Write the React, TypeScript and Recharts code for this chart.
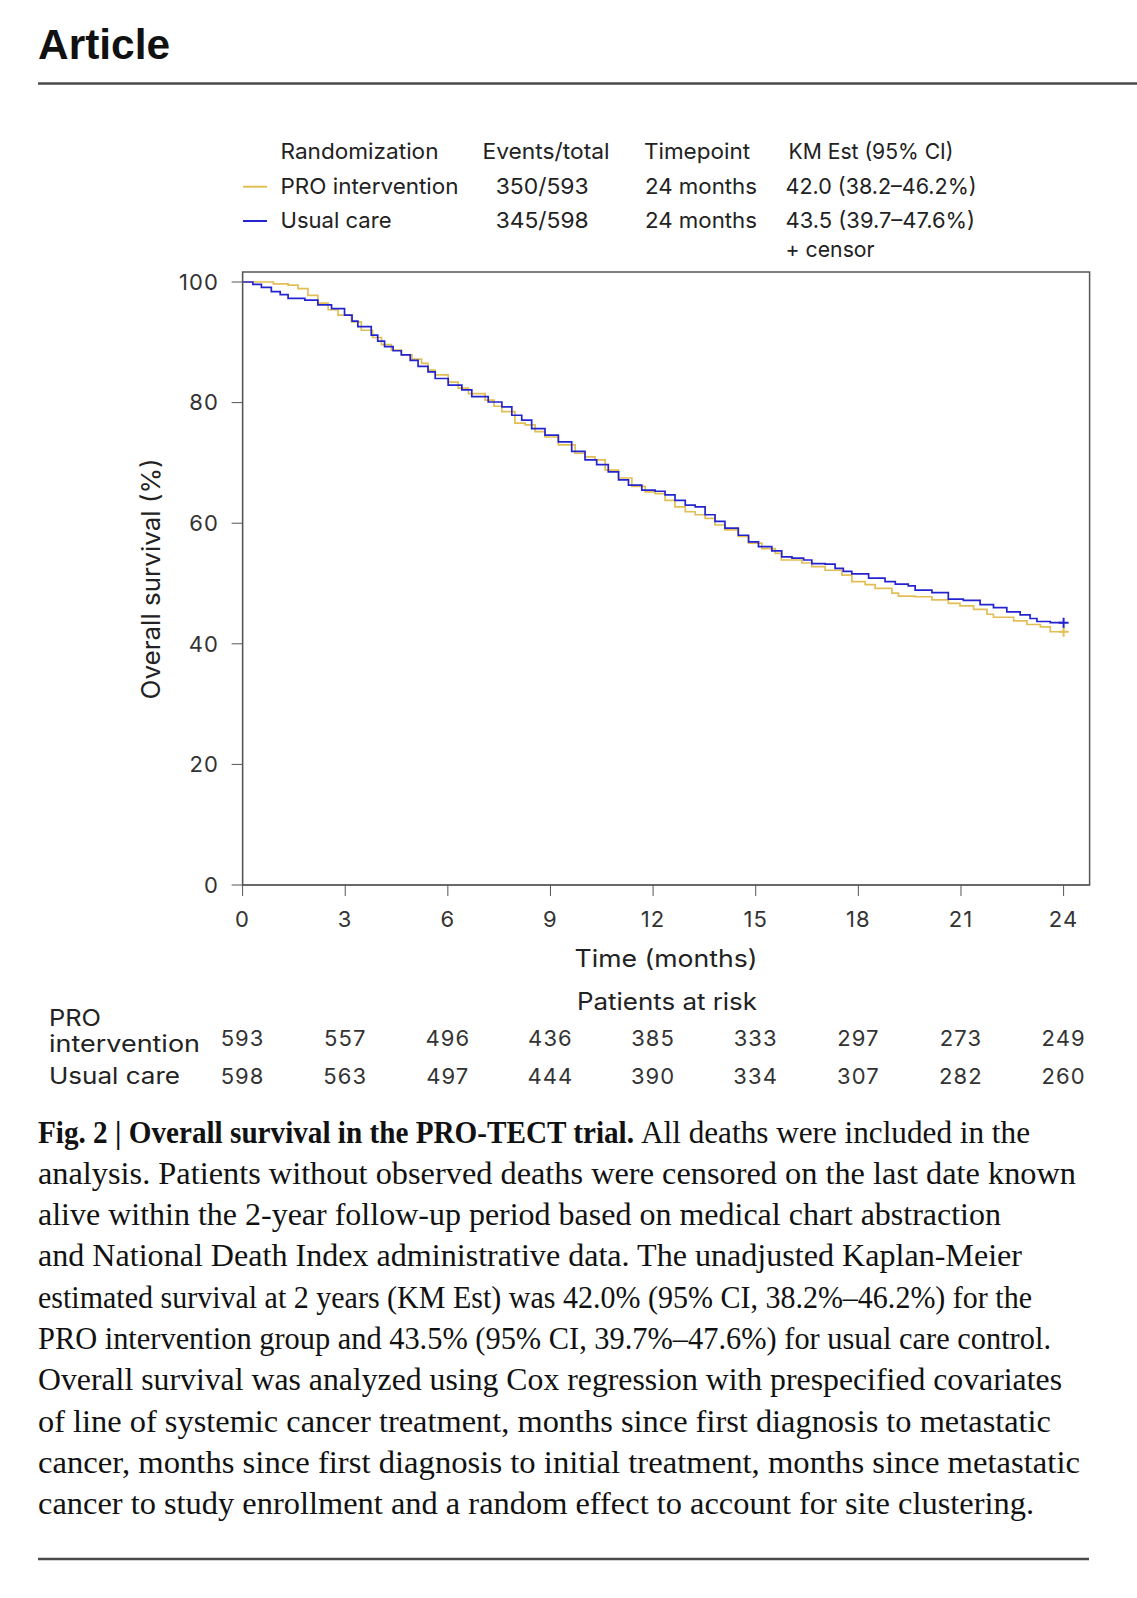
import React from "react"
import {
    LineChart,
    Line,
    XAxis,
    YAxis,
    ReferenceArea,
} from "recharts"

// survival curves (months, % alive)
const proTime = [
    0, 0.9, 1.33, 1.62, 1.91, 2.2, 2.5, 2.79, 3.18, 3.47, 3.8, 4.06, 4.35, 4.64, 4.95, 5.23, 5.42,
    5.63, 6.01, 6.3, 6.6, 7.09, 7.35, 7.58, 7.96, 8.26, 8.55, 8.84, 9.23, 9.72, 10.01, 10.3, 10.6,
    10.99, 11.38, 11.77, 12.06, 12.35, 12.64, 12.94, 13.23, 13.52, 13.81, 14.1, 14.49, 14.79, 15.18,
    15.57, 15.75, 16.35, 16.64, 17.03, 17.52, 17.81, 18.2, 18.49, 18.98, 19.17, 19.66, 20.15, 20.63,
    20.97, 21.37, 21.76, 21.95, 22.54, 22.93, 23.32, 23.61, 24,
]
const proSurv = [
    100, 99.7, 99.5, 98.9, 97.8, 96.5, 95.4, 94.5, 93.4, 92.0, 90.8, 89.6, 88.7, 87.9, 87.2, 86.5, 85.4,
    84.6, 83.4, 82.4, 81.5, 80.4, 79.4, 78.5, 76.6, 76.3, 75.2, 74.3, 73.0, 71.6, 71.0, 70.5, 68.8,
    67.5, 66.1, 65.2, 64.9, 63.8, 62.7, 61.9, 61.4, 60.8, 59.7, 58.9, 57.8, 56.7, 55.8,
    55.0, 53.9, 53.4, 52.8, 52.2, 51.4, 50.3, 49.8, 49.2, 48.4, 47.9, 47.8, 47.3, 46.7,
    46.3, 45.7, 44.9, 44.4, 43.8, 43.2, 42.8, 42.0, 42.0,
]
const ucTime = [
    0, 0.3, 0.55, 0.84, 1.1, 1.33, 1.82, 2.2, 2.6, 2.98, 3.2, 3.37, 3.76, 3.95, 4.15, 4.4, 4.64, 4.9,
    5.13, 5.42, 5.63, 6.01, 6.41, 6.7, 7.18, 7.58, 7.87, 8.16, 8.45, 8.84, 9.23, 9.62, 10.01, 10.35,
    10.69, 10.99, 11.28, 11.67, 12.06, 12.35, 12.64, 12.94, 13.23, 13.52, 13.81, 14.1, 14.49, 14.79,
    15.08, 15.47, 15.76, 16.06, 16.4, 16.64, 17.03, 17.32, 17.56, 17.81, 18.3, 18.78, 19.08, 19.46,
    19.66, 20.15, 20.63, 21.07, 21.56, 21.95, 22.34, 22.73, 23.02, 23.22, 23.61, 24,
]
const ucSurv = [
    100, 99.6, 99.1, 98.4, 97.9, 97.3, 97.0, 96.2, 95.6, 94.5, 93.5, 92.6, 91.2, 90.2, 89.3, 88.6, 87.9, 87.0,
    86.0, 85.1, 84.0, 82.9, 82.1, 81.0, 80.1, 79.3, 77.9, 77.1, 75.7, 74.6, 73.5, 71.9, 70.5, 69.7,
    68.5, 67.2, 66.3, 65.5, 65.3, 64.7, 63.8, 63.0, 62.7, 61.4, 60.3, 59.2, 58.0, 56.9,
    56.1, 55.4, 54.4, 54.2, 53.9, 53.3, 53.2, 52.5, 52.0, 51.6, 50.9, 50.3, 49.9, 49.6,
    48.9, 48.5, 47.4, 47.2, 46.5, 46.0, 45.3, 44.8, 44.2, 43.7, 43.5, 43.5,
]

// patients at risk table
const riskTimes = [0, 3, 6, 9, 12, 15, 18, 21, 24]
const proAtRisk = [593, 557, 496, 436, 385, 333, 297, 273, 249]
const ucAtRisk = [598, 563, 497, 444, 390, 334, 307, 282, 260]
const yTicks = [0, 20, 40, 60, 80, 100]

const PRO_COLOR = "#E2BE55"
const UC_COLOR = "#2424CF"
const AXIS = "#555555"
const SANS = "Inter, 'Noto Sans', sans-serif"
const SERIF = "'Liberation Serif', serif"
const X_MAX = 24.76
const Y_MAX = 101.66

const proData = proTime.map((t, i) => ({ t, s: proSurv[i] }))
const ucData = ucTime.map((t, i) => ({ t, s: ucSurv[i] }))
// anchors so the at-risk axes have something to scale
const riskRow = riskTimes.map((t) => ({ t, s: 0 }))

const captionLines = [
    { text: "analysis. Patients without observed deaths were censored on the last date known", end: 1076 },
    { text: "alive within the 2-year follow-up period based on medical chart abstraction", end: 1001 },
    { text: "and National Death Index administrative data. The unadjusted Kaplan-Meier", end: 1022 },
    { text: "estimated survival at 2 years (KM Est) was 42.0% (95% CI, 38.2%\u201346.2%) for the", end: 1032 },
    { text: "PRO intervention group and 43.5% (95% CI, 39.7%\u201347.6%) for usual care control.", end: 1051 },
    { text: "Overall survival was analyzed using Cox regression with prespecified covariates", end: 1062 },
    { text: "of line of systemic cancer treatment, months since first diagnosis to metastatic", end: 1051 },
    { text: "cancer, months since first diagnosis to initial treatment, months since metastatic", end: 1080 },
    { text: "cancer to study enrollment and a random effect to account for site clustering.", end: 1034 },
]
const CAP_Y = 1142.5

// "+" censor mark on the last point only
function censorDot(color: string, n: number) {
    return (p: any) => {
        if (p.index !== n - 1) return <g key={`d${p.index}`} />
        return (
            <path
                key={`d${p.index}`}
                d={`M${p.cx - 5},${p.cy}h10M${p.cx},${p.cy - 5}v10`}
                stroke={color}
                strokeWidth={2}
            />
        )
    }
}

const tickStyle = { fill: "#333", fontSize: 22, fontFamily: SANS, letterSpacing: 1.1 }

function Lt({ x, y, w, children }: { x: number; y: number; w: number; children: string }) {
    return (
        <text x={x} y={y} fontFamily={SANS} fontSize={22} fill="#222" textLength={w} lengthAdjust="spacingAndGlyphs">
            {children}
        </text>
    )
}

export default function App() {
    return (
        <div style={{ position: "absolute", left: 0, top: 0, width: 1137, height: 1598, background: "#fff" }}>
            <LineChart
                width={1137}
                height={1598}
                margin={{ top: 272, right: 47.4, left: 162.6, bottom: 503 }}
            >
                <ReferenceArea
                    x1={0}
                    x2={X_MAX}
                    y1={0}
                    y2={Y_MAX}
                    fill="none"
                    stroke={AXIS}
                    strokeWidth={1.5}
                    ifOverflow="visible"
                />
                <XAxis
                    dataKey="t"
                    type="number"
                    domain={[0, X_MAX]}
                    ticks={riskTimes}
                    interval={0}
                    allowDataOverflow
                    height={130}
                    tickSize={11}
                    tickMargin={15.7}
                    stroke={AXIS}
                    tick={tickStyle}
                />
                <XAxis
                    xAxisId="r1"
                    dataKey="t"
                    type="number"
                    domain={[0, X_MAX]}
                    ticks={riskTimes}
                    interval={0}
                    allowDataOverflow
                    height={40}
                    axisLine={false}
                    tickLine={false}
                    tickSize={0}
                    tickMargin={15.3}
                    tickFormatter={(v) => String(proAtRisk[riskTimes.indexOf(v)])}
                    tick={tickStyle}
                />
                <XAxis
                    xAxisId="r2"
                    dataKey="t"
                    type="number"
                    domain={[0, X_MAX]}
                    ticks={riskTimes}
                    interval={0}
                    allowDataOverflow
                    height={40}
                    axisLine={false}
                    tickLine={false}
                    tickSize={0}
                    tickMargin={13.7}
                    tickFormatter={(v) => String(ucAtRisk[riskTimes.indexOf(v)])}
                    tick={tickStyle}
                />
                <YAxis
                    type="number"
                    domain={[0, Y_MAX]}
                    ticks={yTicks}
                    interval={0}
                    allowDataOverflow
                    width={80}
                    tickSize={11}
                    tickMargin={12.6}
                    stroke={AXIS}
                    tick={tickStyle}
                />
                <Line
                    xAxisId="r1"
                    data={riskRow}
                    dataKey="s"
                    stroke="none"
                    dot={false}
                    activeDot={false}
                    isAnimationActive={false}
                />
                <Line
                    xAxisId="r2"
                    data={riskRow}
                    dataKey="s"
                    stroke="none"
                    dot={false}
                    activeDot={false}
                    isAnimationActive={false}
                />
                <Line
                    data={proData}
                    dataKey="s"
                    type="stepAfter"
                    stroke={PRO_COLOR}
                    strokeWidth={1.7}
                    dot={censorDot(PRO_COLOR, proData.length)}
                    activeDot={false}
                    isAnimationActive={false}
                />
                <Line
                    data={ucData}
                    dataKey="s"
                    type="stepAfter"
                    stroke={UC_COLOR}
                    strokeWidth={1.7}
                    dot={censorDot(UC_COLOR, ucData.length)}
                    activeDot={false}
                    isAnimationActive={false}
                />
            </LineChart>

            <svg
                width={1137}
                height={1598}
                style={{ position: "absolute", left: 0, top: 0, pointerEvents: "none" }}
            >
                <text x={38} y={58.5} fontFamily="'Liberation Sans', Arial, sans-serif" fontWeight="bold" fontSize={42} textLength={132} lengthAdjust="spacingAndGlyphs" fill="#111">
                    Article
                </text>
                <line x1={38} x2={1137} y1={83.5} y2={83.5} stroke="#4a4a4a" strokeWidth={2.5} />

                {/* legend table */}
                <Lt x={280.5} y={159} w={158}>Randomization</Lt>
                <Lt x={482.5} y={159} w={127}>Events/total</Lt>
                <Lt x={644} y={159} w={106}>Timepoint</Lt>
                <Lt x={788.5} y={159} w={165}>KM Est (95% CI)</Lt>

                <line x1={243} x2={267} y1={186.7} y2={186.7} stroke={PRO_COLOR} strokeWidth={2} />
                <Lt x={280.5} y={193.5} w={178}>PRO intervention</Lt>
                <Lt x={495.7} y={193.5} w={93}>350/593</Lt>
                <Lt x={645} y={193.5} w={112}>24 months</Lt>
                <Lt x={785.6} y={193.5} w={191}>42.0 (38.2–46.2%)</Lt>

                <line x1={243} x2={267} y1={221} y2={221} stroke={UC_COLOR} strokeWidth={2} />
                <Lt x={280.5} y={228.3} w={111}>Usual care</Lt>
                <Lt x={495.7} y={228.3} w={93}>345/598</Lt>
                <Lt x={645} y={228.3} w={112}>24 months</Lt>
                <Lt x={785.6} y={228.3} w={189.5}>43.5 (39.7–47.6%)</Lt>
                <Lt x={785.6} y={256.5} w={89}>+ censor</Lt>

                {/* axis titles */}
                <text
                    transform="translate(160,579) rotate(-90)"
                    textAnchor="middle"
                    fontFamily={SANS}
                    fontSize={25}
                    textLength={241}
                    lengthAdjust="spacingAndGlyphs"
                    fill="#222"
                >
                    Overall survival (%)
                </text>
                <text x={574.5} y={967} fontFamily={SANS} fontSize={24} textLength={183} lengthAdjust="spacingAndGlyphs" fill="#222">
                    Time (months)
                </text>
                <text x={577} y={1010} fontFamily={SANS} fontSize={24} textLength={180} lengthAdjust="spacingAndGlyphs" fill="#222">
                    Patients at risk
                </text>

                {/* at-risk row labels */}
                <text x={49} y={1026} fontFamily={SANS} fontSize={23} textLength={52} lengthAdjust="spacingAndGlyphs" fill="#222">PRO</text>
                <text x={49} y={1052} fontFamily={SANS} fontSize={23} textLength={151} lengthAdjust="spacingAndGlyphs" fill="#222">
                    intervention
                </text>
                <text x={49} y={1084} fontFamily={SANS} fontSize={23} textLength={131} lengthAdjust="spacingAndGlyphs" fill="#222">
                    Usual care
                </text>

                {/* caption */}
                <text x={38} y={CAP_Y} fontFamily={SERIF} fontWeight="bold" fontSize={31} textLength={596} lengthAdjust="spacingAndGlyphs" fill="#111">
                    Fig. 2 | Overall survival in the PRO-TECT trial.
                </text>
                <text x={641} y={CAP_Y} fontFamily={SERIF} fontSize={31} textLength={389} lengthAdjust="spacingAndGlyphs" fill="#111">
                    All deaths were included in the
                </text>
                {captionLines.map((l, i) => (
                    <text
                        key={i}
                        x={38}
                        y={CAP_Y + 41.3 * (i + 1)}
                        fontFamily={SERIF}
                        fontSize={31}
                        textLength={l.end - 38}
                        lengthAdjust="spacingAndGlyphs"
                        fill="#111"
                    >
                        {l.text}
                    </text>
                ))}
                <line x1={38} x2={1089} y1={1559} y2={1559} stroke="#4a4a4a" strokeWidth={2.5} />
            </svg>
        </div>
    )
}
